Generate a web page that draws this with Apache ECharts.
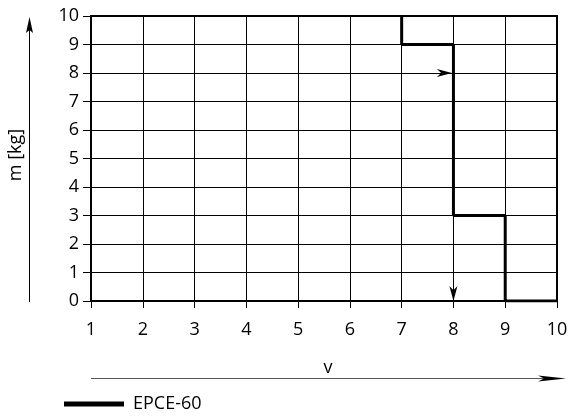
<!DOCTYPE html>
<html><head><meta charset="utf-8">
<script src="https://cdn.jsdelivr.net/npm/echarts@6/dist/echarts.min.js"></script>
<style>html,body{margin:0;padding:0;background:#fff}#c{width:577px;height:416px}</style>
</head><body><div id="c"></div>
<script>
var xTicks = [1,2,3,4,5,6,7,8,9,10];
var yTicks = [0,1,2,3,4,5,6,7,8,9,10];
var stepX = [7,7,8,8,9,9,10];
var stepY = [10,9,9,3,3,0,0];
var arrowH = [[1,8],[7.97,8]];
var arrowV = [[8,8],[8,0]];
var seriesName = 'EPCE-60';
var xName = 'v';
var yName = 'm [kg]';

var FONT = 'Open Sans';
var ARROW = 'path://M5,0 L10,14 L5,10 L0,14 Z';
var chart = echarts.init(document.getElementById('c'));
chart.setOption({
  animation:false,
  backgroundColor:'#fff',
  grid:{left:91,right:20,top:16,bottom:115,show:true,borderColor:'#000',borderWidth:2,backgroundColor:'transparent'},
  legend:{
    data:[{name:seriesName,icon:'rect'}],
    left:59,top:390,itemWidth:60,itemHeight:5,itemGap:10,
    textStyle:{fontFamily:FONT,fontSize:18,color:'#000',padding:[5,0,0,4]}
  },
  xAxis:{
    type:'value',min:xTicks[0],max:xTicks[xTicks.length-1],interval:1,
    axisLine:{show:true,lineStyle:{color:'#000',width:1}},
    axisTick:{show:true,length:7,lineStyle:{color:'#000'}},
    axisLabel:{fontFamily:FONT,fontSize:18,color:'#000',margin:20},
    splitLine:{show:true,lineStyle:{color:'#000',width:1}}
  },
  yAxis:{
    type:'value',min:yTicks[0],max:yTicks[yTicks.length-1],interval:1,
    axisLine:{show:true,lineStyle:{color:'#000',width:2}},
    axisTick:{show:true,length:8,lineStyle:{color:'#000'}},
    axisLabel:{fontFamily:FONT,fontSize:18,color:'#000',margin:12},
    splitLine:{show:true,lineStyle:{color:'#000',width:1}}
  },
  graphic:[
    {type:'text',rotation:Math.PI/2,style:{text:yName,font:'18px "Open Sans"',fill:'#000',textAlign:'center',textVerticalAlign:'middle'},
     x:16,y:155},
    {type:'line',shape:{x1:29.5,y1:302,x2:29.5,y2:30},style:{stroke:'#000',lineWidth:1}},
    {type:'polygon',shape:{points:[[29.5,17],[26,33],[29.5,30],[33,33]]},style:{fill:'#000'}},
    {type:'text',style:{text:xName,font:'18px "Open Sans"',fill:'#000',textAlign:'center',textVerticalAlign:'middle'},x:328,y:368},
    {type:'line',shape:{x1:91,y1:378.5,x2:552,y2:378.5},style:{stroke:'#555',lineWidth:1.2}},
    {type:'polygon',shape:{points:[[566,378.5],[538,375.5],[544,378.5],[538,381.5]]},style:{fill:'#000'}}
  ],
  series:[
    {name:seriesName,type:'line',data:stepX.map(function(x,i){return [x,stepY[i]];}),
     symbol:'none',lineStyle:{color:'#000',width:3},itemStyle:{color:'#000'},z:5},
    {type:'lines',coordinateSystem:'cartesian2d',z:6,
     symbol:['none','none'],
     lineStyle:{color:'#000',width:1,opacity:1},
     data:[{coords:arrowH},{coords:arrowV}]},
    {type:'scatter',z:7,silent:true,symbol:ARROW,symbolSize:[8,15],
     itemStyle:{color:'#000',opacity:1},
     data:[
       {value:arrowH[1],symbolRotate:-90,symbolOffset:[-7.5,0]},
       {value:arrowV[1],symbolRotate:180,symbolOffset:[0,-7.5]}
     ]}
  ]
});
</script></body></html>
